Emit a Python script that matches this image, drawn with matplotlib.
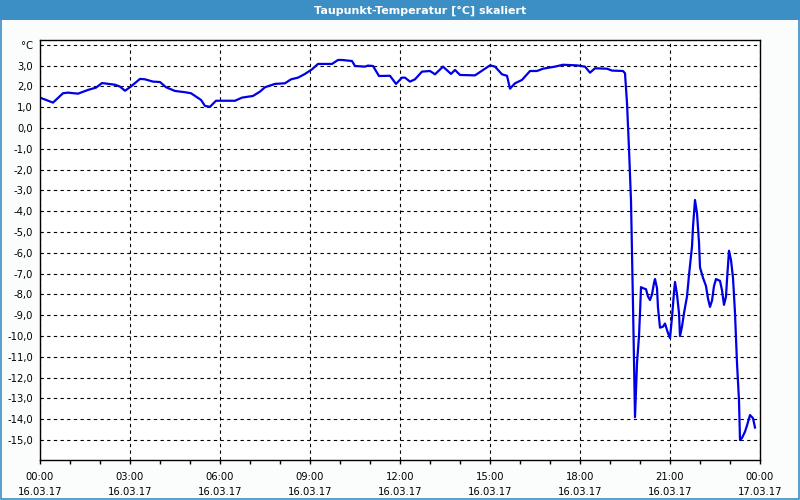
import matplotlib
matplotlib.use("Agg")
import matplotlib.pyplot as plt
from matplotlib.patches import Rectangle
from matplotlib.ticker import MultipleLocator

# Taupunkt-Temperatur, minutes since 16.03.17 00:00
minutes = [0, 26, 46, 56, 76, 96, 112, 124, 150, 160, 170, 180, 200, 210, 226, 240,
           252, 270, 290, 302, 322, 330, 340, 352, 390, 404, 426, 440, 450, 470, 490,
           502, 516, 530, 544, 556, 584, 596, 604, 624, 630, 650, 656, 666, 678, 700,
           712, 724, 730, 740, 750, 764, 780, 790, 806, 822, 830, 840, 870, 900, 910,
           924, 934, 940, 950, 964, 980, 994, 1006, 1030, 1046, 1074, 1090, 1100, 1110,
           1134, 1144, 1166, 1170, 1174, 1178, 1182, 1186, 1190, 1192, 1194, 1198, 1200,
           1202, 1206, 1212, 1216, 1220, 1224, 1228, 1230, 1234, 1236, 1240, 1246, 1250,
           1256, 1260, 1264, 1268, 1270, 1274, 1278, 1280, 1284, 1288, 1294, 1298, 1304,
           1306, 1310, 1314, 1318, 1320, 1326, 1332, 1336, 1340, 1344, 1348, 1352, 1360,
           1364, 1368, 1372, 1374, 1378, 1382, 1386, 1390, 1394, 1398, 1400, 1404, 1410,
           1414, 1420, 1426, 1430]
dewpoint = [1.46, 1.22, 1.67, 1.70, 1.65, 1.83, 1.94, 2.16, 2.08, 1.99, 1.79, 1.96, 2.36,
            2.34, 2.23, 2.21, 1.96, 1.78, 1.72, 1.67, 1.35, 1.06, 1.02, 1.31, 1.31, 1.46,
            1.54, 1.75, 1.96, 2.12, 2.15, 2.34, 2.42, 2.60, 2.82, 3.08, 3.08, 3.27, 3.27,
            3.22, 2.98, 2.95, 3.00, 2.98, 2.50, 2.51, 2.12, 2.42, 2.42, 2.23, 2.34, 2.71,
            2.74, 2.58, 2.95, 2.60, 2.79, 2.55, 2.53, 3.01, 2.95, 2.58, 2.51, 1.89, 2.15,
            2.31, 2.74, 2.74, 2.85, 2.95, 3.04, 3.01, 2.95, 2.66, 2.87, 2.85, 2.76, 2.74,
            2.63, 1.2, -1.0, -3.5, -8.5, -13.9, -12.6, -11.3, -10.0, -8.9, -7.65, -7.7,
            -7.75, -8.1, -8.27, -8.0, -7.45, -7.26, -7.7, -8.65, -9.6, -9.55, -9.4, -9.86,
            -10.1, -9.1, -7.9, -7.4, -8.0, -8.9, -10.0, -9.55, -8.9, -8.1, -7.07, -5.7,
            -4.75, -3.46, -4.1, -5.5, -6.7, -7.2, -7.6, -8.2, -8.6, -8.3, -7.6, -7.26,
            -7.35, -7.8, -8.5, -8.1, -7.3, -5.9, -6.35, -7.2, -8.9, -11.3, -13.1, -15.0,
            -14.9, -14.6, -14.3, -13.8, -13.95, -14.4]

time_labels = ["00:00", "03:00", "06:00", "09:00", "12:00", "15:00", "18:00", "21:00", "00:00"]
date_labels = ["16.03.17"] * 8 + ["17.03.17"]
y_values = list(range(-15, 5))

hours = [m / 60 for m in minutes]

fig = plt.figure(figsize=(8, 5), dpi=100, facecolor="#fbfdfd")

# title bar and window frame
fig.patches.append(Rectangle((0, 0.96), 1, 0.04, transform=fig.transFigure,
                             facecolor="#3c8fc4", edgecolor="none"))
fig.patches.append(Rectangle((0.001, 0.002), 0.998, 0.96, transform=fig.transFigure,
                             facecolor="none", edgecolor="#3c8fc4", lw=1.2))
fig.text(0.525, 0.979, "Taupunkt-Temperatur [°C] skaliert", color="white",
         fontsize=8, fontweight="bold", ha="center", va="center")

ax = fig.add_axes([0.05, 0.08, 0.9, 0.84])
ax.set_facecolor("white")
ax.plot(hours, dewpoint, color="#0000e6", lw=1.6)

ax.set_xlim(0, 24)
ax.set_ylim(-15.96, 4.23)

ax.set_xticks(range(0, 25, 3))
ax.set_xticklabels([f"{t}\n{d}" for t, d in zip(time_labels, date_labels)],
                   fontsize=7.2, linespacing=1.6)
ax.xaxis.set_minor_locator(MultipleLocator(1))
ax.set_yticks(y_values)
ax.set_yticklabels([("°C" if v == 4 else f"{v},0") for v in y_values], fontsize=7.2)

ax.tick_params(axis="x", which="both", direction="out", length=3, width=1, pad=6)
ax.tick_params(axis="y", length=0, pad=5)

ax.grid(True, which="major", color="black", linestyle=(0, (3, 3)), lw=0.8)
for s in ax.spines.values():
    s.set_color("black")
    s.set_linewidth(1)

fig.savefig("out.png", dpi=100, facecolor=fig.get_facecolor())
